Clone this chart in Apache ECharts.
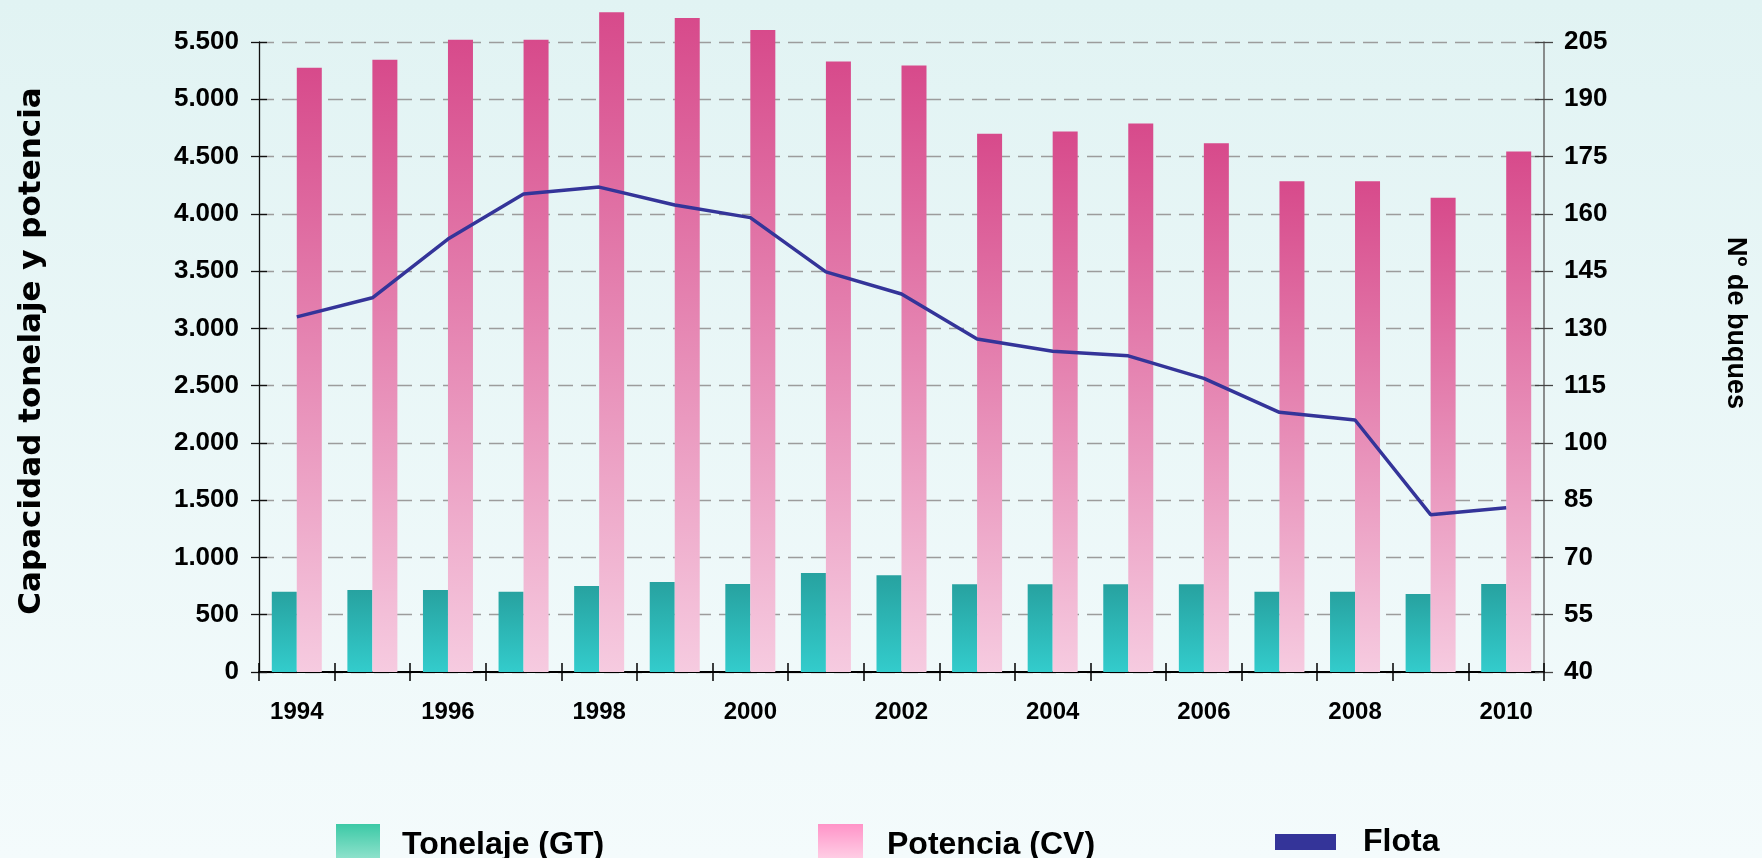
<!DOCTYPE html>
<html>
<head>
<meta charset="utf-8">
<title>Flota: tonelaje, potencia y nº de buques</title>
<script src="https://cdn.jsdelivr.net/npm/echarts@6/dist/echarts.min.js"></script>
<style>
  html, body { margin: 0; padding: 0; }
  body { background: linear-gradient(to bottom, #e1f3f3 0%, #f4fbfc 100%); }
  #chart { width: 1762px; height: 858px; }
</style>
</head>
<body>
<div id="chart"></div>
<script>
// Years on the category axis
const years = ['1994', '1995', '1996', '1997', '1998', '1999', '2000', '2001', '2002',
               '2003', '2004', '2005', '2006', '2007', '2008', '2009', '2010'];
// Gross tonnage (GT)
const tonelaje = [700, 716, 716, 700, 751, 786, 769, 865, 845, 766, 766, 766, 766, 700, 700, 681, 769];
// Engine power (CV)
const potencia = [5275, 5345, 5520, 5520, 5760, 5710, 5605, 5330, 5295, 4700, 4718, 4788, 4615, 4285, 4285, 4140, 4545];
// Number of vessels
const flota = [133, 138, 153.4, 165.2, 167, 162.3, 159, 144.8, 139, 127.2, 124, 122.8, 116.9, 108, 106, 81.2, 83];

const serieNames = ['Tonelaje (GT)', 'Potencia (CV)', 'Flota'];

const LG = echarts.graphic.LinearGradient;
const yLabelFont = { color: '#000', fontSize: 26, fontWeight: 'bold', fontFamily: 'Liberation Sans' };
const xLabelFont = { color: '#000', fontSize: 24, fontWeight: 'bold', fontFamily: 'Liberation Sans' };
const legendText = { color: '#000', fontSize: 32, fontWeight: 'bold', fontFamily: 'Liberation Sans' };

function miles(v) {
  if (v >= 1000) {
    return Math.floor(v / 1000) + '.' + String(v % 1000).padStart(3, '0');
  }
  return String(v);
}

const chart = echarts.init(document.getElementById('chart'), null, { renderer: 'canvas' });

chart.setOption({
  animation: false,
  backgroundColor: 'transparent',
  grid: { left: 259, right: 218, top: 42, bottom: 186, containLabel: false },
  legend: [
    {
      left: 336, top: 824, padding: 0, itemWidth: 44, itemHeight: 43,
      selectedMode: false,
      textStyle: Object.assign({ padding: [0, 0, 8, 17] }, legendText),
      data: [{ name: serieNames[0], icon: 'rect',
        itemStyle: { color: new LG(0, 0, 0, 1, [{ offset: 0, color: '#3cc9a6' }, { offset: 1, color: '#a2e8d5' }]) } }]
    },
    {
      left: 818, top: 824, padding: 0, itemWidth: 45, itemHeight: 43,
      selectedMode: false,
      textStyle: Object.assign({ padding: [0, 0, 8, 19] }, legendText),
      data: [{ name: serieNames[1], icon: 'rect',
        itemStyle: { color: new LG(0, 0, 0, 1, [{ offset: 0, color: '#ff94c8' }, { offset: 1, color: '#ffdcec' }]) } }]
    },
    {
      left: 1275, top: 826, padding: 0, itemWidth: 61, itemHeight: 28,
      selectedMode: false,
      textStyle: Object.assign({ padding: [0, 0, 0, 22] }, legendText),
      data: [{ name: serieNames[2], icon: 'path://M0,6H61V22H0Z',
        itemStyle: { color: '#343499' }, lineStyle: { width: 0 } }]
    }
  ],
  graphic: [
    {
      type: 'text', x: 32, y: 351, rotation: Math.PI / 2,
      style: { text: 'Capacidad tonelaje y potencia', fill: '#000',
        font: 'bold 31px "DejaVu Sans"', align: 'center', verticalAlign: 'middle' }
    },
    {
      type: 'text', x: 1735, y: 323, rotation: -Math.PI / 2,
      style: { text: 'Nº de buques', fill: '#000',
        font: 'bold 27px "Liberation Sans"', align: 'center', verticalAlign: 'middle' }
    }
  ],
  xAxis: [
    {
      type: 'category', data: years, boundaryGap: true,
      axisLine: { show: true, lineStyle: { color: '#000', width: 2 } },
      axisTick: { show: true, interval: 0, length: 9, lineStyle: { color: '#000', width: 1.5 } },
      axisLabel: Object.assign({ interval: 1, margin: 28 }, xLabelFont),
      splitLine: { show: false }
    },
    {
      // inner half of the crossing ticks
      type: 'category', data: years, boundaryGap: true, position: 'bottom',
      axisLine: { show: false },
      axisTick: { show: true, inside: true, interval: 0, length: 9, lineStyle: { color: '#000', width: 1.5 } },
      axisLabel: { show: false },
      splitLine: { show: false }
    }
  ],
  yAxis: [
    {
      type: 'value', min: 0, max: 5500, interval: 500, position: 'left',
      axisLine: { show: true, lineStyle: { color: '#111', width: 1.3 } },
      axisTick: { show: true, length: 8, lineStyle: { color: '#111', width: 1.3 } },
      axisLabel: Object.assign({ margin: 20, formatter: miles }, yLabelFont),
      splitLine: { show: true, lineStyle: { color: '#9c9c9c', width: 1.3, type: [15, 8] } }
    },
    {
      type: 'value', min: 40, max: 205, interval: 15, position: 'right',
      axisLine: { show: true, lineStyle: { color: '#6a6a6a', width: 1.5 } },
      axisTick: { show: true, length: 9, lineStyle: { color: '#444', width: 1.3 } },
      axisLabel: Object.assign({ margin: 20 }, yLabelFont),
      splitLine: { show: false }
    },
    {
      type: 'value', min: 0, max: 5500, interval: 500, position: 'left',
      axisLine: { show: false },
      axisTick: { show: true, inside: true, length: 8, lineStyle: { color: '#111', width: 1.3 } },
      axisLabel: { show: false },
      splitLine: { show: false }
    },
    {
      type: 'value', min: 40, max: 205, interval: 15, position: 'right',
      axisLine: { show: false },
      axisTick: { show: true, inside: true, length: 9, lineStyle: { color: '#444', width: 1.3 } },
      axisLabel: { show: false },
      splitLine: { show: false }
    }
  ],
  series: [
    {
      name: serieNames[0], type: 'bar', data: tonelaje,
      barWidth: 25, barGap: '0%', clip: false,
      itemStyle: { color: new LG(0, 0, 0, 1, [{ offset: 0, color: '#27a2a0' }, { offset: 1, color: '#33cccc' }]) }
    },
    {
      name: serieNames[1], type: 'bar', data: potencia,
      barWidth: 25, barGap: '0%', clip: false,
      itemStyle: { color: new LG(0, 0, 0, 1, [{ offset: 0, color: '#d74a8b' }, { offset: 1, color: '#f6cbe0' }]) }
    },
    {
      name: serieNames[2], type: 'line', yAxisIndex: 1, data: flota,
      showSymbol: false, symbol: 'none', z: 5,
      lineStyle: { color: '#343499', width: 3.5 },
      itemStyle: { color: '#343499' }
    }
  ]
});
</script>
</body>
</html>
